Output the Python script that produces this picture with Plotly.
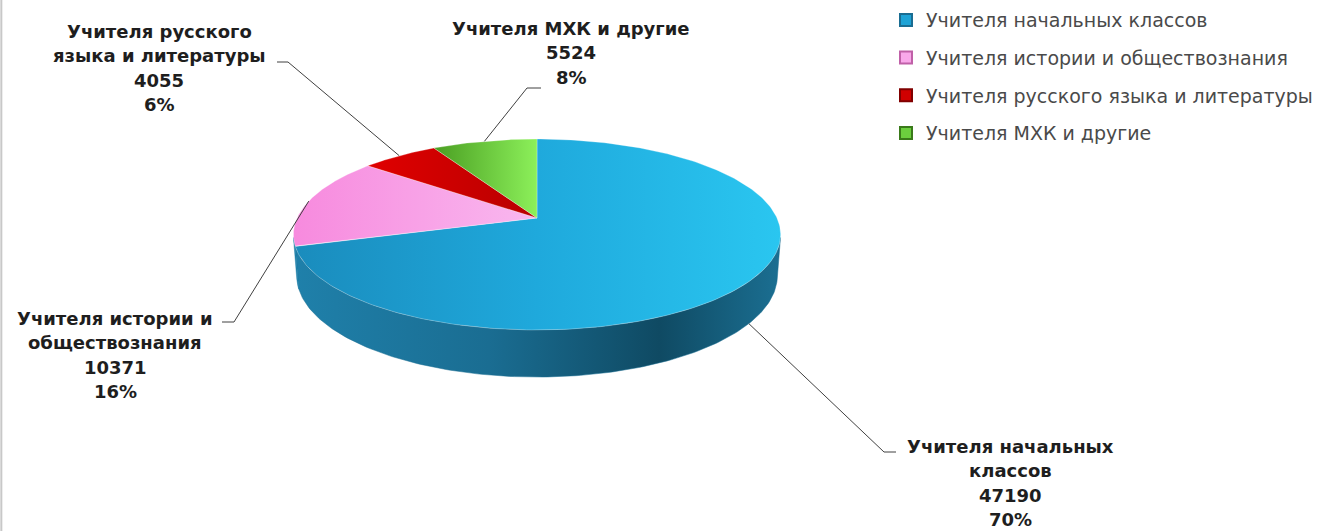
import numpy as np
import plotly.graph_objects as go

# ---------------- data ----------------
categories = [
    "Учителя начальных классов",
    "Учителя истории и обществознания",
    "Учителя русского языка и литературы",
    "Учителя МХК и другие",
]
values = [47190, 10371, 4055, 5524]
pct_labels = ["70%", "16%", "6%", "8%"]
label_name_lines = [
    ["Учителя начальных", "классов"],
    ["Учителя истории и", "обществознания"],
    ["Учителя русского", "языка и литературы"],
    ["Учителя МХК и другие"],
]

# ---------------- styling / layout ----------------
W, H = 1334, 531
CX, CY = 537, 218            # projected centre of the pie (pixels)
ELEV = np.radians(22.7)      # camera elevation
DIST = 5.334                 # camera distance (in pie radii)
FOCAL = 1280                 # focal length (pixels)
THICK = 0.1855               # pie thickness (in pie radii)

top_scales = [
    [[0, "#1a8cbd"], [0.5, "#1fa9dc"], [1, "#2ac6f0"]],
    [[0, "#f78ade"], [1, "#f9b8ef"]],
    [[0, "#e00000"], [1, "#b80000"]],
    [[0, "#4a9e22"], [1, "#8cf05a"]],
]
side_scales = [
    [[0, "#1f80aa"], [0.4, "#1a6d92"], [0.75, "#0f4a63"], [1, "#1b6f92"]],
    [[0, "#1f80aa"], [1, "#1f80aa"]],
    [[0, "#900000"], [1, "#900000"]],
    [[0, "#3a7a1a"], [1, "#3a7a1a"]],
]
legend_colors = ["#1ea3d6", "#f9a8ea", "#d00000", "#6ccf3e"]
legend_borders = ["#1a6d92", "#c060a8", "#800000", "#3a7a1a"]

# label placement (center x, first-line y) and leader elbows
label_pos = [(1010, 446), (115, 318), (159, 31), (571, 28)]
leader_elbow = [((884, 452), (896, 452)), ((234, 322), (222, 322)),
                ((288, 62), (277, 62)), ((527, 88), (541, 88))]
LINE_STEP = 24.5
LABEL_FONT = 18
LEGEND_FONT = 19


def project(t, y_world=0.0):
    """Perspective projection of a point on the pie rim (t clockwise from top)."""
    X = np.sin(t)
    Z = np.cos(t)
    s, c = np.sin(ELEV), np.cos(ELEV)
    depth = DIST + Z * c - y_world * s
    up = y_world * c + Z * s
    return CX + FOCAL * X / depth, CY - FOCAL * up / depth


def apex(y_world=0.0):
    s, c = np.sin(ELEV), np.cos(ELEV)
    depth = DIST - y_world * s
    return CX, CY - FOCAL * (y_world * c) / depth


vals = np.array(values, dtype=float)
frac = vals / vals.sum()
ends = np.cumsum(frac) * 2 * np.pi
starts = ends - frac * 2 * np.pi

# silhouette of the cylinder side (visible front part)
c_sil = -1.0 / (DIST * np.cos(ELEV))
sil0 = np.arccos(c_sil)
sil1 = 2 * np.pi - sil0

fig = go.Figure()

# side walls
for i in range(len(values)):
    a0 = max(starts[i], sil0)
    a1 = min(ends[i], sil1)
    if a1 <= a0:
        continue
    t = np.linspace(a0, a1, 160)
    xt, yt = project(t, 0.0)
    xb, yb = project(t, -THICK)
    xs = np.concatenate([xt, xb[::-1], xt[:1]])
    ys = np.concatenate([yt, yb[::-1], yt[:1]])
    fig.add_trace(go.Scatter(
        x=xs, y=ys, mode="lines", fill="toself",
        line=dict(width=0.5, color=side_scales[i][-1][1]),
        fillgradient=dict(type="horizontal", colorscale=side_scales[i]),
        hoverinfo="skip", showlegend=False))

# top faces
ax0, ay0 = apex(0.0)
for i in range(len(values)):
    t = np.linspace(starts[i], ends[i], 240)
    x, y = project(t, 0.0)
    xs = np.concatenate([[ax0], x, [ax0]])
    ys = np.concatenate([[ay0], y, [ay0]])
    fig.add_trace(go.Scatter(
        x=xs, y=ys, mode="lines", fill="toself",
        line=dict(width=0.6, color="rgba(255,255,255,0.45)"),
        fillgradient=dict(type="horizontal", colorscale=top_scales[i]),
        hoverinfo="skip", showlegend=False))

# leader lines and labels
for i in range(len(values)):
    mid = (starts[i] + ends[i]) / 2
    if sil0 <= mid <= sil1:
        sx, sy = project(mid, -THICK)
    else:
        sx, sy = project(mid, 0.0)
    (ex1, ey1), (ex2, ey2) = leader_elbow[i]
    fig.add_trace(go.Scatter(
        x=[sx, ex1, ex2], y=[sy, ey1, ey2], mode="lines",
        line=dict(color="#404040", width=1),
        hoverinfo="skip", showlegend=False))
    lines = label_name_lines[i] + [f"{values[i]}", pct_labels[i]]
    lx, ly = label_pos[i]
    for k, txt in enumerate(lines):
        fig.add_annotation(
            x=lx, y=ly + k * LINE_STEP, xref="x", yref="y",
            text=f"<b>{txt}</b>", showarrow=False,
            xanchor="center", yanchor="middle",
            font=dict(family="DejaVu Sans", size=LABEL_FONT, color="#1e1e1e"))

# legend entries
for i, name in enumerate(categories):
    fig.add_trace(go.Scatter(
        x=[None], y=[None], mode="markers", name=name,
        legendgroup=f"g{i}",
        marker=dict(symbol="square", size=12, color=legend_colors[i],
                    line=dict(color=legend_borders[i], width=1))))

fig.update_layout(
    width=W, height=H,
    margin=dict(l=0, r=0, t=0, b=0),
    paper_bgcolor="white", plot_bgcolor="white",
    xaxis=dict(range=[0, W], visible=False, fixedrange=True),
    yaxis=dict(range=[H, 0], visible=False, fixedrange=True),
    showlegend=True,
    legend=dict(x=886 / W, y=0.998, xanchor="left", yanchor="top",
                font=dict(family="DejaVu Sans", size=LEGEND_FONT, color="#4a4a4a"),
                tracegroupgap=10, bgcolor="rgba(0,0,0,0)",
                itemsizing="constant"),
    shapes=[dict(type="line", xref="paper", yref="paper",
                 x0=0.001, x1=0.001, y0=0, y1=1,
                 line=dict(color="#c8c8c8", width=2))],
)

fig.write_html("out.html", config={"displayModeBar": False},
               post_script="document.body.style.margin='0px';")
